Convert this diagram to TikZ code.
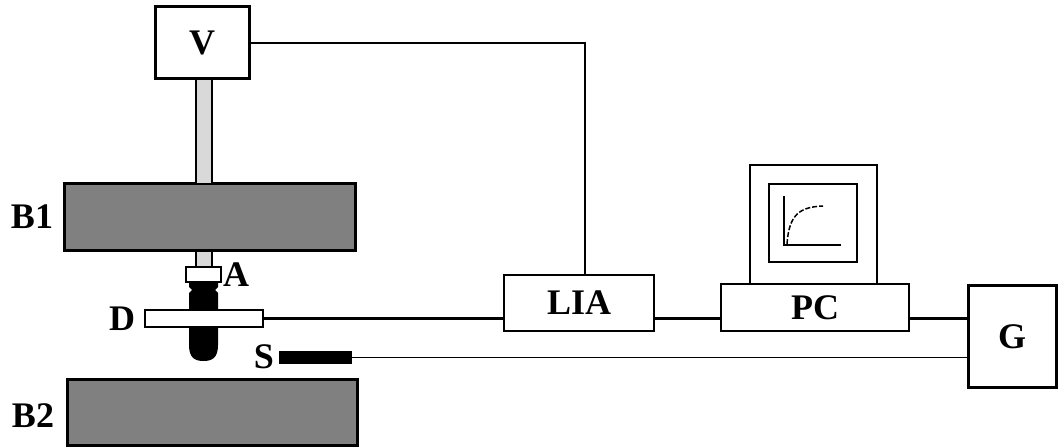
\documentclass[tikz,border=0pt]{standalone}
\usepackage{fontspec}
\setmainfont{Liberation Serif}
\usetikzlibrary{calc}
\begin{document}
\begin{tikzpicture}[x=0.5pt,y=-0.5pt,
  txt/.style={font=\fontsize{18}{20}\selectfont\bfseries, inner sep=0pt},
  pbox/.style 2 args={rectangle, draw, fill=white, inner sep=0pt,
    minimum width=#1*0.5pt, minimum height=#2*0.5pt,
    font=\fontsize{18}{20}\selectfont\bfseries},
  heavy/.style={line width=1.5pt},
  medium/.style={line width=1pt},
  thinwire/.style={line width=0.75pt},
  thickwire/.style={line width=1.25pt},
  rod/.style={draw, fill=black!15, line width=0.75pt}]
\useasboundingbox (0,0) rectangle (1058,448);

% magnet poles
\node[pbox={291}{67}, heavy, fill=black!50] (B1) at (209.5,217.5) {};
\node[pbox={290}{66}, heavy, fill=black!50] (B2) at (212,412.5) {};
\node[txt] (lB1) at (32,217) {B1};
\node[txt] (lB2) at (33,416) {B2};

% vibrator and its rod
\node[pbox={94}{72}, heavy] (V) at (202,43) {V};
\draw[rod] (196,79) rectangle (212,184);
\draw[rod] (196,251) rectangle (212,267);

% sample holder
\node[pbox={35}{15}, thinwire] (A) at (203.5,274.5) {};
\node[txt] (lA) at (236,275) {A};
\fill[black] (189,282) -- (218,282) -- (218,287) -- (215,290) -- (218,293)
  -- (218,345) .. controls (218,358) and (212,361) .. (203.5,361)
  .. controls (195,361) and (189,358) .. (189,345)
  -- (189,293) -- (192,290) -- (189,287) -- cycle;

% detection coils
\node[pbox={118}{17}, thinwire] (D) at (204,318.5) {};
\node[txt] (lD) at (122,319) {D};

% Hall sensor
\node[rectangle, fill=black, inner sep=0pt, minimum width=73*0.5pt,
  minimum height=13*0.5pt] (S) at (315.5,357.5) {};
\node[txt] (lS) at (264,357) {S};

% instruments
\node[pbox={150}{56}, medium] (LIA) at (579,303) {LIA};
\node[pbox={127}{119}, medium] (mon) at (813.5,224.5) {};
\node[pbox={88}{78}, medium] (scr) at (813,223) {};
\node[pbox={188}{47}, medium] (PC) at (815,307.5) {PC};
\node[pbox={88}{101}, heavy] (G) at (1012,336.5) {G};

% curve on the screen
\draw[thinwire] (784,196) -- (784,245) -- (841,245);
\draw[thinwire, dash pattern=on 2.5pt off 1pt]
  (787,244) .. controls (789,214) and (800,207) .. (823,206);

% wiring
\coordinate (vin) at ($(LIA.north)+(6,0)$);
\draw[thinwire] (V.east) -| (vin);
\draw[thickwire] (D.east) -- (D.east -| LIA.west);
\draw[thickwire] (LIA.west |- D.east) ++(150,0) coordinate (lo) -- (lo -| PC.west);
\draw[thickwire] (PC.east |- D.east) -- (D.east -| G.west);
\draw[thinwire] (S.east) -- (S.east -| G.west);
\end{tikzpicture}
\end{document}
